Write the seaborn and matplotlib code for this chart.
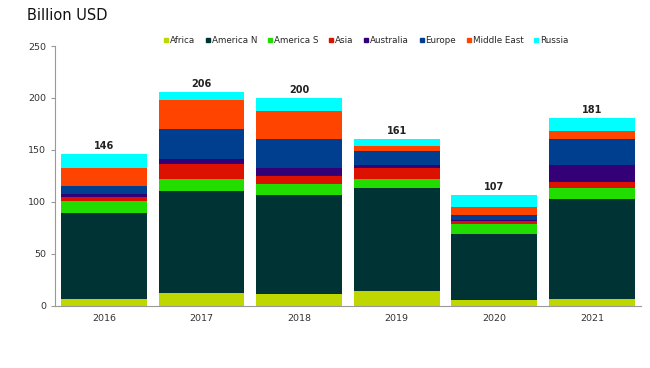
import numpy as np
import pandas as pd
import matplotlib
matplotlib.use("Agg")
import matplotlib.pyplot as plt
import seaborn as sns
from matplotlib.lines import Line2D

# Data (billion USD)
years = ["2016", "2017", "2018", "2019", "2020", "2021"]
africa = [7.0, 12.5, 11.5, 14.7, 5.5, 7.0]
america_n = [82.0, 97.8, 95.2, 98.8, 64.0, 96.0]
america_s = [11.5, 12.1, 10.6, 8.6, 9.5, 10.5]
asia = [4.5, 14.4, 7.4, 10.6, 3.0, 5.5]
australia = [3.0, 4.5, 8.3, 2.6, 0.5, 16.3]
europe = [7.0, 28.7, 27.2, 14.1, 5.0, 25.7]
middle_east = [18.0, 28.0, 27.3, 4.1, 8.0, 7.7]
russia = [13.0, 8.0, 12.5, 7.4, 11.5, 12.3]
totals = [146, 206, 200, 161, 107, 181]

regions = ["Africa", "America N", "America S", "Asia", "Australia",
           "Europe", "Middle East", "Russia"]
colors = ["#BFD600", "#003333", "#22DD00", "#DD1100", "#330077",
          "#003F8F", "#FF4400", "#00FFFF"]

df = pd.DataFrame({
    "Year": years,
    "Africa": africa,
    "America N": america_n,
    "America S": america_s,
    "Asia": asia,
    "Australia": australia,
    "Europe": europe,
    "Middle East": middle_east,
    "Russia": russia,
})

# cumulative sums - draw from the top layer down so lower layers cover
cum = df[regions].cumsum(axis=1)

sns.set_style("white")
fig = plt.figure(figsize=(6.5, 3.68), dpi=100)
ax = fig.add_axes([0.0846, 0.1685, 0.9014, 0.7065])

for reg, col in reversed(list(zip(regions, colors))):
    sns.barplot(x=df["Year"], y=cum[reg], color=col, width=0.88,
                saturation=1, ax=ax, linewidth=0)

# totals above the bars
for i, t in enumerate(totals):
    ax.text(i, cum["Russia"][i] + 3, str(t), ha="center", va="bottom",
            fontsize=7, fontweight="bold", color="#222222")

ax.set_ylim(0, 250)
ax.set_yticks(np.arange(0, 251, 50))
ax.set_xlim(-0.5, len(years) - 0.5)
ax.set_xlabel("")
ax.set_ylabel("")
ax.tick_params(axis="x", which="major", length=0, labelsize=6.8,
               colors="#333333", pad=6)
ax.set_xticks(np.arange(-0.5, len(years), 1.0), minor=True)
ax.tick_params(axis="x", which="minor", length=3, color="#999999",
               direction="out")
ax.tick_params(axis="y", length=3, color="#999999", labelsize=6.8,
               labelcolor="#333333", left=True, direction="out")
for s in ["top", "right"]:
    ax.spines[s].set_visible(False)
for s in ["left", "bottom"]:
    ax.spines[s].set_color("#999999")
    ax.spines[s].set_linewidth(0.8)

fig.text(0.042, 0.958, "Billion USD", fontsize=10.5, ha="left", va="center",
         color="#111111")

handles = [Line2D([], [], marker="s", linestyle="none", markersize=3.5,
                  markerfacecolor=c, markeredgecolor=c) for c in colors]
fig.legend(handles, regions, loc="center", bbox_to_anchor=(0.563, 0.891),
           ncol=8, frameon=False, fontsize=6.3, handlelength=0.6,
           handletextpad=0.15, columnspacing=1.15)

fig.savefig("out.png", dpi=100)
